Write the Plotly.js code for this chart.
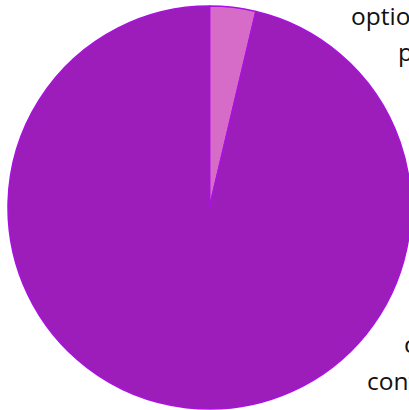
<!DOCTYPE html>
<html>
<head>
<meta charset="utf-8">
<script src="https://cdn.plot.ly/plotly-3.0.1.min.js"></script>
<style>
  html, body { margin: 0; padding: 0; overflow: hidden; background: #ffffff; }
  #chart { width: 440px; height: 410px; }
</style>
</head>
<body>
<div id="chart"></div>
<script>
// Data
const labels = ["option items<br>parts", "core<br>content"];
const values = [3.7, 96.3];
const sliceColors = ["#d66cc8", "#9d1dbb"];

// Label lines (from the labels array), placed beside the pie
const W = 440, H = 410;
const labelPos = [
  [[350, 15], [397, 51]],
  [[403, 343], [366, 380]]
];

const annotations = [];
labels.forEach((lab, i) => {
  lab.split("<br>").forEach((line, j) => {
    const p = labelPos[i][j];
    annotations.push({
      text: line,
      xref: "paper", yref: "paper",
      x: p[0] / W, y: 1 - p[1] / H,
      xanchor: "left", yanchor: "middle",
      showarrow: false,
      borderpad: 0,
      font: { family: "Open Sans, sans-serif", size: 24.5, color: "#111111" }
    });
  });
});

const trace = {
  type: "pie",
  labels: labels,
  values: values,
  sort: false,
  direction: "clockwise",
  rotation: 0,
  textinfo: "none",
  hoverinfo: "label+percent",
  marker: { colors: sliceColors, line: { color: "#a812de", width: 1.5 } },
  domain: { x: [8 / W, 411 / W], y: [1 / H, 404 / H] }
};

const layout = {
  width: W, height: H,
  margin: { l: 0, r: 0, t: 0, b: 0 },
  showlegend: false,
  paper_bgcolor: "#ffffff",
  annotations: annotations
};

Plotly.newPlot("chart", [trace], layout, { displayModeBar: false, staticPlot: true });
</script>
</body>
</html>
